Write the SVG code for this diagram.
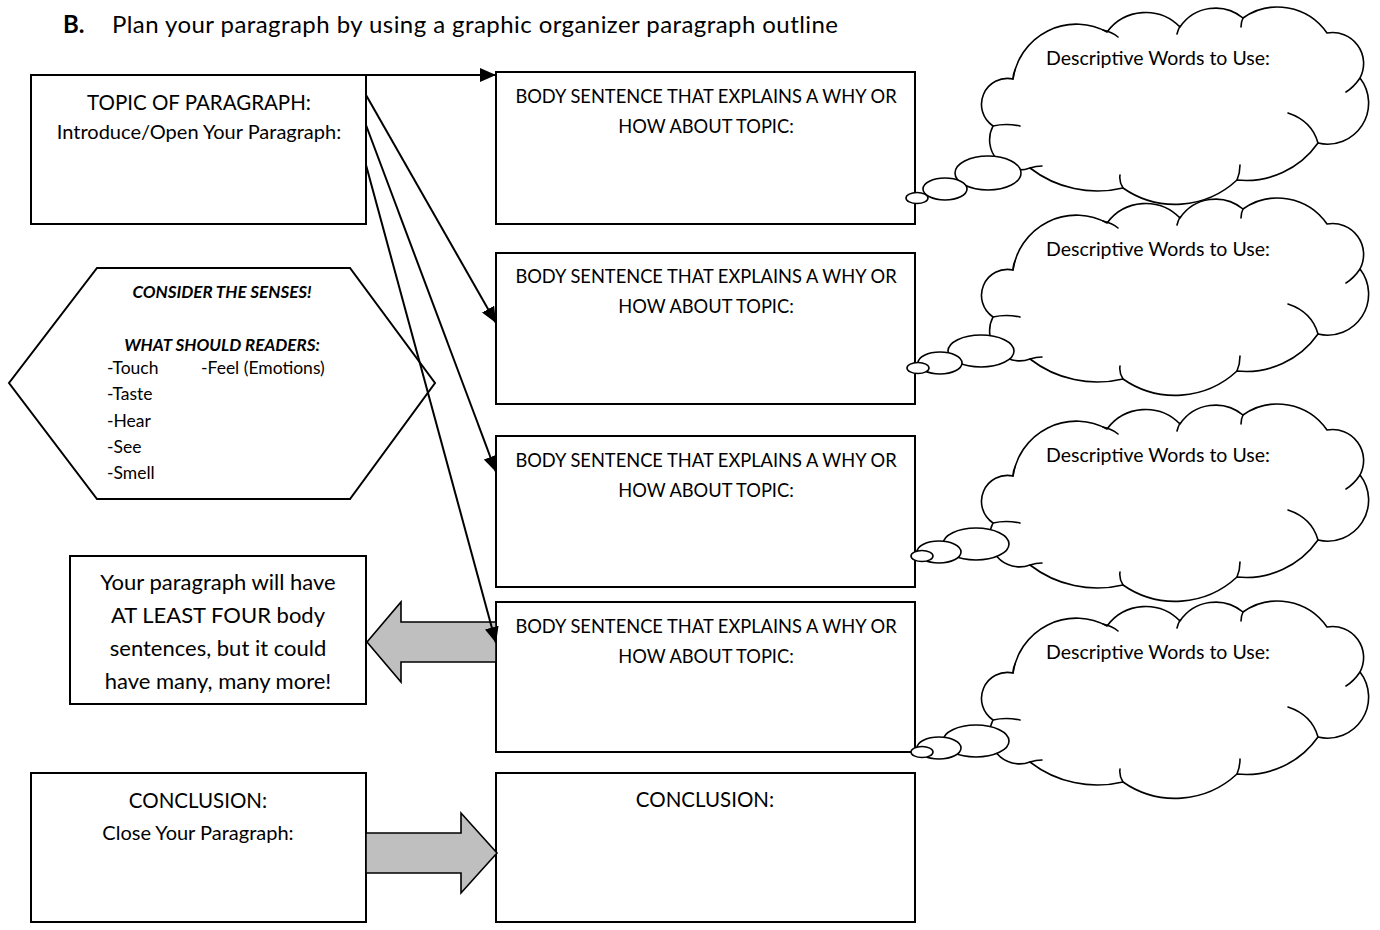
<svg xmlns="http://www.w3.org/2000/svg" width="1380" height="930" viewBox="0 0 1380 930">
<style>
text{font-family:Lato,"Liberation Sans",sans-serif;fill:#000}
.box{fill:#fff;stroke:#000;stroke-width:2}
.h{font-size:20.5px;text-anchor:middle}
.s{font-size:20px;text-anchor:middle}
.b{font-size:18.3px;text-anchor:middle}
.d{font-size:19.5px;text-anchor:middle}
.i{font-size:22px;text-anchor:middle}
.cl{fill:#fff;stroke:#000;stroke-width:1.6;stroke-linejoin:round}
.cr{fill:none;stroke:#000;stroke-width:1.6;stroke-linecap:round}
.bub{fill:#fff;stroke:#000;stroke-width:1.6}
.ln{stroke:#000;stroke-width:2;fill:none}
.blk{fill:#bfbfbf;stroke:#000;stroke-width:1.6;stroke-linejoin:miter}
.hx{font-size:17.5px}
.hb{font-size:17px;font-weight:bold;font-style:italic;text-anchor:middle}
</style>
<defs>
<marker id="ah" markerUnits="userSpaceOnUse" markerWidth="16" markerHeight="14" viewBox="0 0 16 14" refX="16" refY="7" orient="auto">
<path d="M0,0 L16,7 L0,14 Z" fill="#000"/>
</marker>
<g id="cloudShape">
<path class="cl" d="M1013,476 A64,64 0 0 1 1107,429 A48,48 0 0 1 1180,424 A43,43 0 0 1 1243,415 A60,60 0 0 1 1327,430 A31,31 0 0 1 1360,475 A41,41 0 0 1 1318,540 A88,88 0 0 1 1237,577 A91,91 0 0 1 1123,585 A110,110 0 0 1 1030,565 A30,30 0 0 1 993,523 A26,26 0 0 1 1013,476 Z"/>
<path class="cr" d="M1013,476 Q1013,471 1015,467 M1103,427 Q1112,429 1118,434 M1180,423 Q1178,427 1177,431 M1243,415 Q1241,419 1241,424 M1346,489 Q1354,484 1360,475 M1288,510 Q1312,518 1318,540 M1237,577 Q1240,570 1240,562 M1123,585 Q1119,579 1120,572 M1030,565 Q1036,563 1042,563 M993,523 Q1006,520 1020,523"/>
</g>
</defs>
<rect width="1380" height="930" fill="#fff"/>

<g id="title">
<text x="63" y="33" style="font-size:24px;font-weight:bold">B.</text>
<text x="112" y="33" style="font-size:24px" textLength="726" lengthAdjust="spacing">Plan your paragraph by using a graphic organizer paragraph outline</text>
</g>

<g id="topic">
<rect class="box" x="31" y="75" width="335" height="149"/>
<text class="h" x="199" y="110">TOPIC OF PARAGRAPH:</text>
<text class="s" x="199" y="139">Introduce/Open Your Paragraph:</text>
</g>

<g id="senses">
<polygon class="box" points="97,268 350,268 435,383 350,499 97,499 9,383"/>
<text class="hb" x="222" y="298">CONSIDER THE SENSES!</text>
<text class="hb" x="222" y="351">WHAT SHOULD READERS:</text>
<text class="hx" x="107" y="374">-Touch</text>
<text class="hx" x="201" y="374">-Feel (Emotions)</text>
<text class="hx" x="107" y="400">-Taste</text>
<text class="hx" x="107" y="427">-Hear</text>
<text class="hx" x="107" y="453">-See</text>
<text class="hx" x="107" y="479">-Smell</text>
</g>

<g id="info">
<rect class="box" x="70" y="556" width="296" height="148"/>
<text class="i" x="218" y="590">Your paragraph will have</text>
<text class="i" x="218" y="623">AT LEAST FOUR body</text>
<text class="i" x="218" y="656">sentences, but it could</text>
<text class="i" x="218" y="689">have many, many more!</text>
</g>

<g id="conclusionLeft">
<rect class="box" x="31" y="773" width="335" height="149"/>
<text class="h" x="198" y="808">CONCLUSION:</text>
<text class="s" x="198" y="840">Close Your Paragraph:</text>
</g>

<g id="body1">
<rect class="box" x="496" y="72" width="419" height="152"/>
<text class="b" x="706" y="103">BODY SENTENCE THAT EXPLAINS A WHY OR</text>
<text class="b" x="706" y="133">HOW ABOUT TOPIC:</text>
</g>
<g id="body2">
<rect class="box" x="496" y="253" width="419" height="151"/>
<text class="b" x="706" y="283">BODY SENTENCE THAT EXPLAINS A WHY OR</text>
<text class="b" x="706" y="313">HOW ABOUT TOPIC:</text>
</g>
<g id="body3">
<rect class="box" x="496" y="436" width="419" height="151"/>
<text class="b" x="706" y="467">BODY SENTENCE THAT EXPLAINS A WHY OR</text>
<text class="b" x="706" y="497">HOW ABOUT TOPIC:</text>
</g>
<g id="body4">
<rect class="box" x="496" y="602" width="419" height="150"/>
<text class="b" x="706" y="633">BODY SENTENCE THAT EXPLAINS A WHY OR</text>
<text class="b" x="706" y="663">HOW ABOUT TOPIC:</text>
</g>
<g id="conclusionRight">
<rect class="box" x="496" y="773" width="419" height="149"/>
<text class="h" x="705" y="807">CONCLUSION:</text>
</g>

<g id="cloud1">
<use href="#cloudShape" transform="translate(0,-397)"/>
<ellipse class="bub" cx="988" cy="173" rx="33" ry="17"/>
<ellipse class="bub" cx="945" cy="189" rx="22" ry="11"/>
<ellipse class="bub" cx="917" cy="198" rx="11" ry="5.5"/>
<text class="d" x="1158" y="65">Descriptive Words to Use:</text>
</g>
<g id="cloud2">
<use href="#cloudShape" transform="translate(0,-206)"/>
<ellipse class="bub" cx="981" cy="351" rx="33" ry="16"/>
<ellipse class="bub" cx="940" cy="363" rx="22" ry="11"/>
<ellipse class="bub" cx="918" cy="368" rx="11" ry="5.5"/>
<text class="d" x="1158" y="256">Descriptive Words to Use:</text>
</g>
<g id="cloud3">
<use href="#cloudShape"/>
<ellipse class="bub" cx="976" cy="544" rx="33" ry="16"/>
<ellipse class="bub" cx="939" cy="552" rx="22" ry="11"/>
<ellipse class="bub" cx="922" cy="556" rx="11" ry="5.5"/>
<text class="d" x="1158" y="462">Descriptive Words to Use:</text>
</g>
<g id="cloud4">
<use href="#cloudShape" transform="translate(0,197)"/>
<ellipse class="bub" cx="976" cy="741" rx="33" ry="16"/>
<ellipse class="bub" cx="939" cy="748" rx="22" ry="11"/>
<ellipse class="bub" cx="922" cy="752" rx="11" ry="5.5"/>
<text class="d" x="1158" y="659">Descriptive Words to Use:</text>
</g>

<g id="connectors">
<polygon class="blk" points="496,622 401,622 401,602 367,642 401,682 401,662 496,662"/>
<polygon class="blk" points="366,833 461,833 461,813 497,853 461,893 461,873 366,873"/>
<line class="ln" x1="366" y1="75" x2="496" y2="75" marker-end="url(#ah)"/>
<line class="ln" x1="366" y1="95" x2="496" y2="323" marker-end="url(#ah)"/>
<line class="ln" x1="366" y1="125" x2="496" y2="472" marker-end="url(#ah)"/>
<line class="ln" x1="366" y1="165" x2="496" y2="643" marker-end="url(#ah)"/>
</g>
</svg>
